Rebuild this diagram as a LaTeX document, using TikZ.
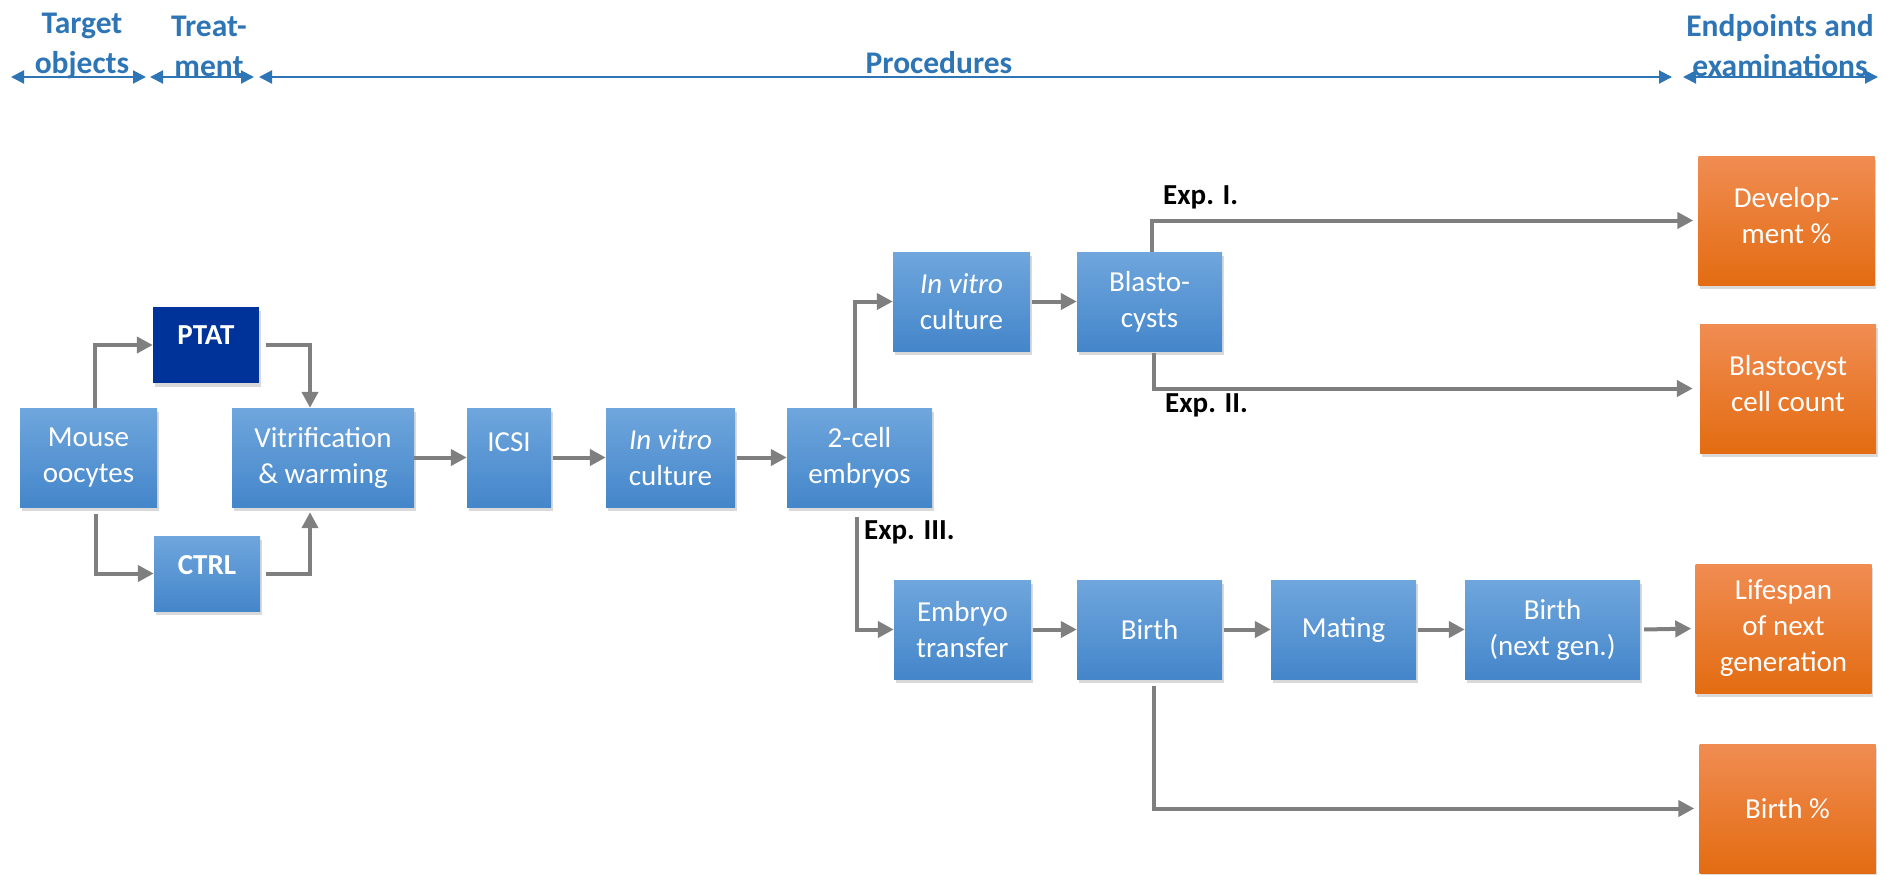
\documentclass[tikz,border=0pt]{standalone}
\usepackage{fontspec}
\setmainfont{Carlito}
\usetikzlibrary{arrows.meta,shadows,calc}
\definecolor{hdr}{HTML}{2E75B6}
\definecolor{btop}{HTML}{6FA6DD}
\definecolor{bbot}{HTML}{4486CA}
\definecolor{otop}{HTML}{F08C52}
\definecolor{obot}{HTML}{E36C12}
\definecolor{ptatc}{HTML}{003399}
\definecolor{garr}{HTML}{7F7F7F}
\tikzset{
 box/.style={rectangle, inner sep=0pt, align=center, text=white, font=\fontsize{29}{36}\selectfont, drop shadow={opacity=0.3, shadow xshift=1.5pt, shadow yshift=-4pt}},
 bluebox/.style={box, top color=btop, bottom color=bbot, minimum height=99pt},
 orangebox/.style={box, top color=otop, bottom color=obot, minimum width=176pt, minimum height=129pt},
 darkbox/.style={box, fill=ptatc},
 garrow/.style={draw=garr, line width=4pt, -{Triangle[length=16pt,width=16pt]}},
 harrow/.style={draw=hdr, line width=2pt, {Triangle[length=13pt,width=13pt]}-{Triangle[length=13pt,width=13pt]}},
 hdrtext/.style={text=hdr, font=\fontsize{31.5}{40}\selectfont\bfseries, align=center, inner sep=0pt},
 explabel/.style={font=\fontsize{29}{34}\selectfont\bfseries, inner sep=0pt, anchor=west},
}
\begin{document}
\begin{tikzpicture}[x=1pt,y=1pt]
\useasboundingbox (0,0) rectangle (1887,-875);
% header
\coordinate (a1) at (11,-77); \coordinate (a2) at (146,-77);
\coordinate (b1) at (150,-77); \coordinate (b2) at (254,-77);
\coordinate (c1) at (259,-77); \coordinate (c2) at (1672,-77);
\coordinate (d1) at (1683,-77); \coordinate (d2) at (1878,-77);
\draw[harrow] (a1) -- (a2);
\draw[harrow] (b1) -- (b2);
\draw[harrow] (c1) -- (c2);
\draw[harrow] (d1) -- (d2);
\node[hdrtext] (h1) at (82,-46) {Target\\objects};
\node[hdrtext] (h2) at (209,-46) {Treat-\\ment};
\node[hdrtext] (h3) at (939,-63) {Procedures};
\node[hdrtext] (h4) at (1780,-46) {Endpoints and\\examinations};
% boxes
\node[bluebox, minimum width=137pt] (mouse) at (88.5,-457.5) {Mouse\\oocytes};
\node[darkbox, font=\fontsize{29}{36}\selectfont\bfseries, minimum width=106pt, minimum height=76pt, text height=19pt, text depth=20pt] (ptat) at (206,-345) {PTAT};
\node[bluebox, font=\fontsize{29}{36}\selectfont\bfseries, minimum width=106pt, minimum height=75pt, text height=19pt, text depth=17pt] (ctrl) at (207,-573.5) {CTRL};
\node[bluebox, minimum width=182pt] (vitr) at (323,-457.5) {Vitrification\\\& warming};
\node[bluebox, minimum width=84pt, text height=19pt, text depth=31pt] (icsi) at (509,-457.5) {ICSI};
\node[bluebox, minimum width=129pt] (ivc1) at (670.5,-457.5) {\textit{In vitro}\\culture};
\node[bluebox, minimum width=145pt] (twocell) at (859.5,-457.5) {2-cell\\embryos};
\node[bluebox, minimum width=137pt] (ivc2) at (961.5,-301.5) {\textit{In vitro}\\culture};
\node[bluebox, minimum width=145pt] (blasto) at (1149.5,-301.5) {Blasto-\\cysts};
\node[orangebox] (dev) at (1786.5,-220.5) {Develop-\\ment \%\\[-26pt]};
\node[orangebox] (bcc) at (1788,-388.5) {Blastocyst\\cell count\\[-26pt]};
\node[bluebox, minimum width=137pt] (et) at (962.5,-629.5) {Embryo\\transfer};
\node[bluebox, minimum width=145pt] (birth) at (1149.5,-629.5) {Birth};
\node[bluebox, minimum width=145pt] (mating) at (1343.5,-629.5) {Mating};
\node[bluebox, minimum width=175pt] (birthng) at (1552.5,-629.5) {Birth\\(next gen.)};
\node[orangebox] (life) at (1783.5,-628.5) {Lifespan\\of next\\generation};
\node[orangebox] (birthpct) at (1787.5,-808.5) {Birth \%};
% connectors
\draw[garrow] ([xshift=6.5pt]mouse.north) |- (ptat.west);
\draw[garrow] ([xshift=7pt]ptat.east) -| ([xshift=-13pt]vitr.north);
\draw[garrow] ([xshift=7.5pt,yshift=-7pt]mouse.south) |- (ctrl.west);
\draw[garrow] ([xshift=6pt]ctrl.east) -| ([xshift=-13pt,yshift=-5pt]vitr.south);
\draw[garrow] (vitr.east) -- (icsi.west);
\draw[garrow] ([xshift=2pt]icsi.east) -- (ivc1.west);
\draw[garrow] ([xshift=2pt]ivc1.east) -- (twocell.west);
\draw[garrow] ([xshift=-4.5pt]twocell.north) |- (ivc2.west);
\draw[garrow] ([xshift=2pt]ivc2.east) -- (blasto.west);
\draw[garrow, shorten >=5pt] ([xshift=2.5pt]blasto.north) |- (dev.west);
\draw[garrow, shorten >=7pt] ([xshift=4.5pt,yshift=-2pt]blasto.south) |- (bcc.west);
\draw[garrow] ([xshift=-2.5pt,yshift=-10pt]twocell.south) |- (et.west);
\draw[garrow] ([xshift=2pt]et.east) -- (birth.west);
\draw[garrow] ([xshift=2pt]birth.east) -- (mating.west);
\draw[garrow] ([xshift=2pt]mating.east) -- (birthng.west);
\draw[garrow, shorten >=4pt] ([xshift=4pt]birthng.east) -- (life.west);
\draw[garrow, shorten >=5pt] ([xshift=4.5pt,yshift=-7pt]birth.south) |- (birthpct.west);
% labels
\node[explabel] (exp1) at (1163,-197) {Exp. I.};
\node[explabel] (exp2) at (1165,-405) {Exp. II.};
\node[explabel] (exp3) at (864,-532) {Exp. III.};
\end{tikzpicture}
\end{document}
